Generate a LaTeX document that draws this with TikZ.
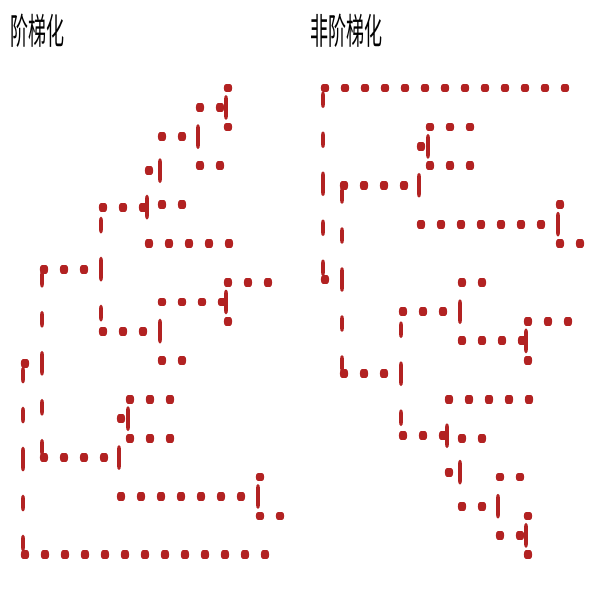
\documentclass[tikz,border=0pt]{standalone}
\usepackage{fontspec}
\newfontfamily\cjkfont{Noto Sans CJK SC}
\definecolor{brk}{HTML}{B22222}
\tikzset{
  br/.style={draw=brk, line width=4.4pt, line cap=round, dash pattern=on 4pt off 16pt},
  ttl/.style={inner sep=0pt, anchor=west, text=black, font=\cjkfont\fontsize{18}{20}\selectfont}
}
\newcommand\treelink[2]{\draw[br] (#1) -- (#1 |- #2); \draw[br] (#1 |- #2) -- (#2);}
\begin{document}
\begin{tikzpicture}[x=1pt,y=-1pt]
\useasboundingbox (0,0) rectangle (600,600);
\fill[white] (0,0) rectangle (600,600);
\begin{scope}[y=-0.5pt, transform canvas={yscale=2}]
  % titles
  \node[ttl] (t1) at (10,30.5) {阶梯化};
  \node[ttl] (t2) at (310,30.5) {非阶梯化};
  % ---------- left tree (ladderized) ----------
  \coordinate (lA) at (226,107.45);
  \coordinate (lB) at (198,136.6);
  \coordinate (lC) at (160,170.65);
  \coordinate (lD) at (147,207.1);
  \coordinate (lE) at (101,269.1);
  \coordinate (lF) at (42,363.3);
  \coordinate (lG) at (160,331.1);
  \coordinate (lH) at (226,301.95);
  \coordinate (lI) at (119,457.55);
  \coordinate (lJ) at (128,418.65);
  \coordinate (lK) at (258,496.45);
  \coordinate (lR) at (23,459.05);
  \coordinate (l0) at (233,88);
  \coordinate (l1) at (233,126.9);
  \coordinate (l2) at (225,165.8);
  \coordinate (l3) at (187,204.7);
  \coordinate (l4) at (234,243.6);
  \coordinate (l5) at (273,282.5);
  \coordinate (l6) at (233,321.4);
  \coordinate (l7) at (187,360.3);
  \coordinate (l8) at (175,399.2);
  \coordinate (l9) at (175,438.1);
  \coordinate (l10) at (265,477.0);
  \coordinate (l11) at (285,515.9);
  \coordinate (l12) at (270,554.8);
  \treelink{lR}{lF} \treelink{lR}{l12}
  \treelink{lF}{lE} \treelink{lF}{lI}
  \treelink{lE}{lD} \treelink{lE}{lG}
  \treelink{lD}{lC} \treelink{lD}{l4}
  \treelink{lC}{lB} \treelink{lC}{l3}
  \treelink{lB}{lA} \treelink{lB}{l2}
  \treelink{lA}{l0} \treelink{lA}{l1}
  \treelink{lG}{lH} \treelink{lG}{l7}
  \treelink{lH}{l5} \treelink{lH}{l6}
  \treelink{lI}{lJ} \treelink{lI}{lK}
  \treelink{lJ}{l8} \treelink{lJ}{l9}
  \treelink{lK}{l10} \treelink{lK}{l11}
  % ---------- right tree (not ladderized) ----------
  \coordinate (rR) at (323,183.75);
  \coordinate (rS) at (342,279.5);
  \coordinate (rT) at (419,185.25);
  \coordinate (rV) at (428,146.35);
  \coordinate (rW) at (558,224.15);
  \coordinate (rU) at (401,373.7);
  \coordinate (rG) at (460,311.7);
  \coordinate (rH) at (526,340.85);
  \coordinate (rD) at (447,435.7);
  \coordinate (rC) at (460,472.15);
  \coordinate (rB) at (498,506.2);
  \coordinate (rA) at (526,535.35);
  \coordinate (r0) at (570,88);
  \coordinate (r1) at (475,126.9);
  \coordinate (r2) at (475,165.8);
  \coordinate (r3) at (565,204.7);
  \coordinate (r4) at (585,243.6);
  \coordinate (r5) at (487,282.5);
  \coordinate (r6) at (573,321.4);
  \coordinate (r7) at (533,360.3);
  \coordinate (r8) at (534,399.2);
  \coordinate (r9) at (487,438.1);
  \coordinate (r10) at (525,477.0);
  \coordinate (r11) at (533,515.9);
  \coordinate (r12) at (533,554.8);
  \treelink{rR}{r0} \treelink{rR}{rS}
  \treelink{rS}{rT} \treelink{rS}{rU}
  \treelink{rT}{rV} \treelink{rT}{rW}
  \treelink{rV}{r1} \treelink{rV}{r2}
  \treelink{rW}{r3} \treelink{rW}{r4}
  \treelink{rU}{rG} \treelink{rU}{rD}
  \treelink{rG}{r5} \treelink{rG}{rH}
  \treelink{rH}{r6} \treelink{rH}{r7}
  \treelink{rD}{r8} \treelink{rD}{rC}
  \treelink{rC}{r9} \treelink{rC}{rB}
  \treelink{rB}{r10} \treelink{rB}{rA}
  \treelink{rA}{r11} \treelink{rA}{r12}
\end{scope}
\end{tikzpicture}
\end{document}
